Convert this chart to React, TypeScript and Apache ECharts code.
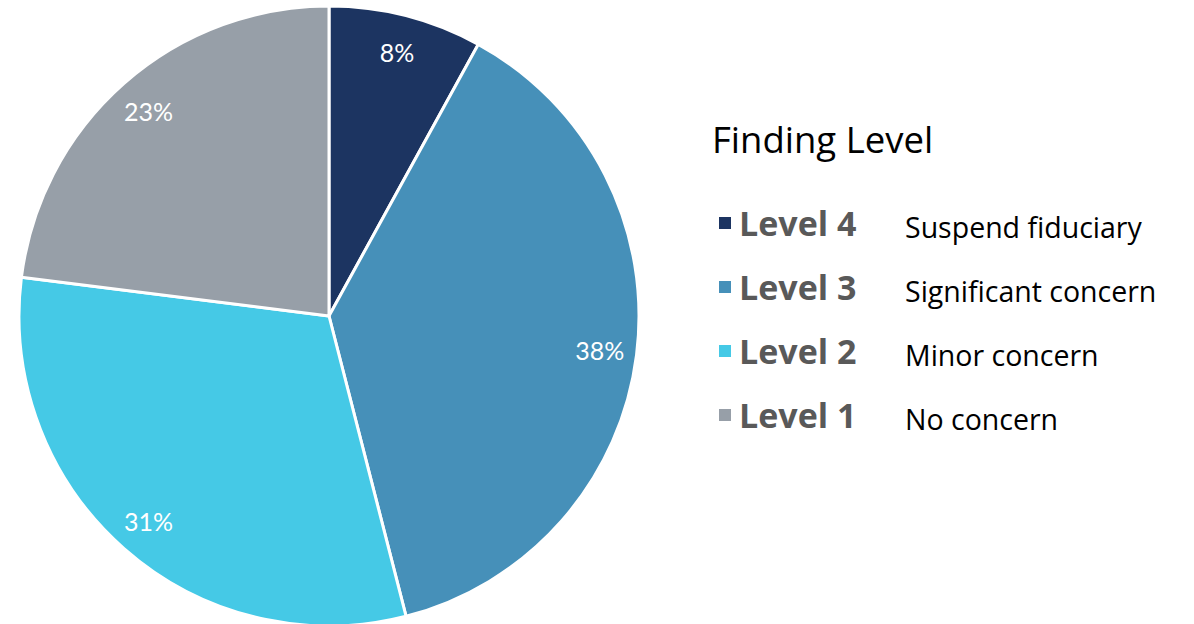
import React, { useEffect, useRef } from "react";
import * as echarts from "echarts";

const levels = ["Level 4", "Level 3", "Level 2", "Level 1"];
const descriptions = ["Suspend fiduciary", "Significant concern", "Minor concern", "No concern"];
const values = [8, 38, 31, 23];
const colors = ["#1c3461", "#4690b9", "#45c9e6", "#979fa8"];
const titleText = "Finding Level";

const FONT = "'Open Sans', Lato, sans-serif";
const LABEL_FONT = "Lato";

export default function App() {
  const ref = useRef<HTMLDivElement>(null);
  useEffect(() => {
    if (!ref.current) return;
    const chart = echarts.init(ref.current, null, { renderer: "svg" });
    const data = levels.map((name, i) => ({
      name,
      value: values[i],
      itemStyle: { color: colors[i] },
    }));
    const descMap: Record<string, string> = {};
    levels.forEach((l, i) => (descMap[l] = descriptions[i]));
    chart.setOption({
      animation: false,
      backgroundColor: "#ffffff",
      textStyle: { fontFamily: FONT },
      title: {
        text: titleText,
        left: 707,
        top: 115,
        textStyle: { fontFamily: FONT, fontSize: 36.5, fontWeight: "normal", color: "#000000" },
      },
      legend: {
        orient: "vertical",
        left: 712,
        top: 200,
        itemWidth: 14,
        itemHeight: 14,
        itemGap: 28,
        icon: "rect",
        data: levels,
        selectedMode: false,
        formatter: (name: string) => `{a|${name}}{b|${descMap[name]}}`,
        textStyle: {
          fontFamily: FONT,
          padding: [0, 0, 0, 2],
          rich: {
            a: { fontFamily: FONT, fontSize: 34, fontWeight: "bold", color: "#595959", width: 166, lineHeight: 36 },
            b: { fontFamily: FONT, fontSize: 28.5, color: "#000000", padding: [7, 0, 0, 0], lineHeight: 36 },
          },
        },
      },
      series: [
        {
          type: "pie",
          center: [329, 316],
          radius: [0, 310],
          startAngle: 90,
          clockwise: true,
          data,
          label: { show: false },
          labelLine: { show: false },
          itemStyle: { borderColor: "#ffffff", borderWidth: 3 },
          emphasis: { disabled: true },
        },
        {
          type: "pie",
          center: [329, 316],
          radius: [232, 308],
          startAngle: 90,
          clockwise: true,
          silent: true,
          legendHoverLink: false,
          data: levels.map((name, i) => ({ name, value: values[i] })),
          itemStyle: { color: "rgba(0,0,0,0)" },
          label: {
            show: true,
            position: "inside",
            formatter: "{c}%",
            color: "#ffffff",
            fontFamily: LABEL_FONT,
            fontSize: 25,
          },
          labelLine: { show: false },
          emphasis: { disabled: true },
        },
      ],
    });
    return () => chart.dispose();
  }, []);
  return (
    <div
      ref={ref}
      style={{ position: "fixed", left: 0, top: 0, width: 1194, height: 624 }}
    />
  );
}
